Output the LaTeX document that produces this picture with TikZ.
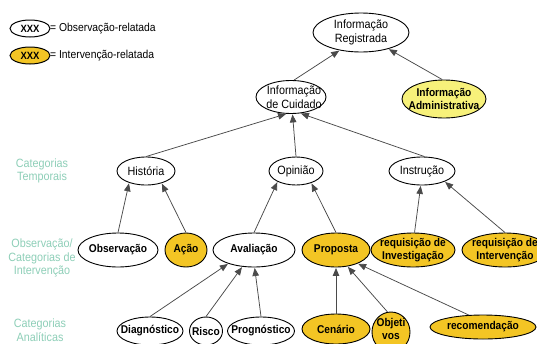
\documentclass[tikz,border=0pt]{standalone}
\usepackage{fontspec}
\setmainfont{Liberation Sans}[FakeStretch=0.9]
\usetikzlibrary{shapes.geometric,arrows.meta,backgrounds}
\definecolor{gold}{HTML}{F3C524}
\definecolor{paleyel}{HTML}{F7F17A}
\definecolor{catteal}{HTML}{8ECFB8}
\definecolor{catdash}{HTML}{86C9B2}
\definecolor{edgegray}{HTML}{4A4A4A}
\begin{document}
\begin{tikzpicture}[x=1pt,y=-1pt,
  obsE/.style={ellipse,draw=black,line width=0.9pt,fill=white,inner sep=0pt},
  intE/.style={obsE,fill=gold},
  admE/.style={obsE,fill=paleyel},
  regT/.style={font=\fontsize{12}{14}\selectfont,align=center,inner sep=0pt},
  bldT/.style={font=\fontsize{11.3}{12.8}\selectfont\bfseries,align=center,inner sep=0pt},
  legX/.style={font=\fontsize{10.5}{12}\selectfont\bfseries,inner sep=0pt},
  conn/.style={draw=edgegray,line width=0.75pt,-{Triangle[length=8pt,width=6.5pt]},shorten >=0.5pt},
  catlabel/.style={text=catteal,font=\fontsize{12}{13.5}\selectfont,align=center,inner sep=0pt},
  catline/.style={draw=catdash,line width=0.8pt,dash pattern=on 6pt off 5pt},
  legT/.style={font=\fontsize{11.5}{13}\selectfont,anchor=west,inner sep=0pt}
]
\path[use as bounding box] (0,0) rectangle (537,343);
\clip (0,0) rectangle (537,343);
\fill[white] (0,0) rectangle (537,343);

% legend
\node[obsE,line width=1pt,minimum width=40,minimum height=17,label={[legX]center:XXX}] (legobs) at (30,28.5) {};
\node[legT] (legobsT) at (50,28.5) {= Observação-relatada};
\node[intE,line width=1pt,minimum width=40,minimum height=17,label={[legX]center:XXX}] (legint) at (30,55.5) {};
\node[legT] (legintT) at (50,55.5) {= Intervenção-relatada};

% category labels
\node[catlabel] (catTemp) at (42,171) {Categorias\\Temporais};
\node[catlabel] (catObs) at (42,258) {Observação/\\Categorias de\\Intervenção};
\node[catlabel] (catAna) at (40,330) {Categorias\\Analíticas};

% level 1
\node[obsE,minimum width=96,minimum height=39,label={[regT]center:Informação\\Registrada}] (reg) at (361,32.5) {};
\node[admE,minimum width=84,minimum height=38,label={[bldT]center:Informação\\Administrativa}] (admin) at (444,99) {};
\node[obsE,minimum width=70,minimum height=33,label={[regT,xshift=3pt]center:Informação\\de Cuidado}] (cuid) at (291,97) {};

% level 2
\node[obsE,minimum width=58,minimum height=28,label={[regT]center:História}] (hist) at (146,171) {};
\node[obsE,minimum width=54,minimum height=28,label={[regT]center:Opinião}] (opin) at (296,171) {};
\node[obsE,minimum width=66,minimum height=28,label={[regT]center:Instrução}] (instr) at (422,171) {};

% level 3
\node[obsE,minimum width=80,minimum height=34,label={[bldT]center:Observação}] (obs) at (118,250) {};
\node[intE,minimum width=42,minimum height=34,label={[bldT]center:Ação}] (acao) at (186,250) {};
\node[obsE,minimum width=82,minimum height=34,label={[bldT]center:Avaliação}] (aval) at (254,250) {};
\node[intE,minimum width=68,minimum height=34,label={[bldT]center:Proposta}] (prop) at (336,250) {};
\node[intE,minimum width=84,minimum height=34,label={[bldT]center:requisição de\\Investigação}] (reqinv) at (413,250) {};
\node[intE,minimum width=86,minimum height=34,label={[bldT]center:requisição de\\Intervenção}] (reqint) at (505,250) {};

% level 4
\node[obsE,minimum width=66,minimum height=28,label={[bldT]center:Diagnóstico}] (diag) at (150,331) {};
\node[obsE,minimum width=33,minimum height=28,label={[bldT]center:Risco}] (risco) at (206,331) {};
\node[obsE,minimum width=67,minimum height=28,label={[bldT]center:Prognóstico}] (prog) at (261,331) {};
\node[intE,minimum width=68,minimum height=30,label={[bldT]center:Cenário}] (cen) at (336,329) {};
\node[intE,minimum width=38,minimum height=40,label={[bldT,yshift=3pt]center:Objeti\\vos}] (obj) at (391,332) {};
\node[intE,minimum width=106,minimum height=24,label={[bldT]center:recomendação}] (recom) at (483,327) {};

% dashed category lines
\coordinate (d1) at (70,171);
\coordinate (d2) at (76,250);
\coordinate (d3) at (68,330);
\begin{scope}[on background layer]
  \draw[catline] (d1) -- (instr.west);
  \draw[catline] (d2) -- (reqint.west);
  \draw[catline] (d3) -- (recom.west);
\end{scope}

% connectors
\draw[conn] (cuid.80) -- (reg.-140);
\draw[conn] (admin.95) -- (reg.-31);
\draw[conn] (hist.north) -- (cuid.-105);
\draw[conn] (opin.north) -- (cuid.-85);
\draw[conn] (instr.80) -- (cuid.-60);
\draw[conn] (obs.north) -- (hist.-145);
\draw[conn] (acao.north) -- (hist.-38);
\draw[conn] (aval.north) -- (opin.-150);
\draw[conn] (prop.north) -- (opin.-38);
\draw[conn] (reqinv.85) -- (instr.-95);
\draw[conn] (reqint.north) -- (instr.-25);
\draw[conn] (diag.north) -- (aval.-152);
\draw[conn] (risco.north) -- (aval.-125);
\draw[conn] (prog.north) -- (aval.-88);
\draw[conn] (cen.north) -- (prop.-90);
\draw[conn] (obj.100) -- (prop.-55);
\draw[conn] (recom.140) -- (prop.-32);
\end{tikzpicture}
\end{document}
